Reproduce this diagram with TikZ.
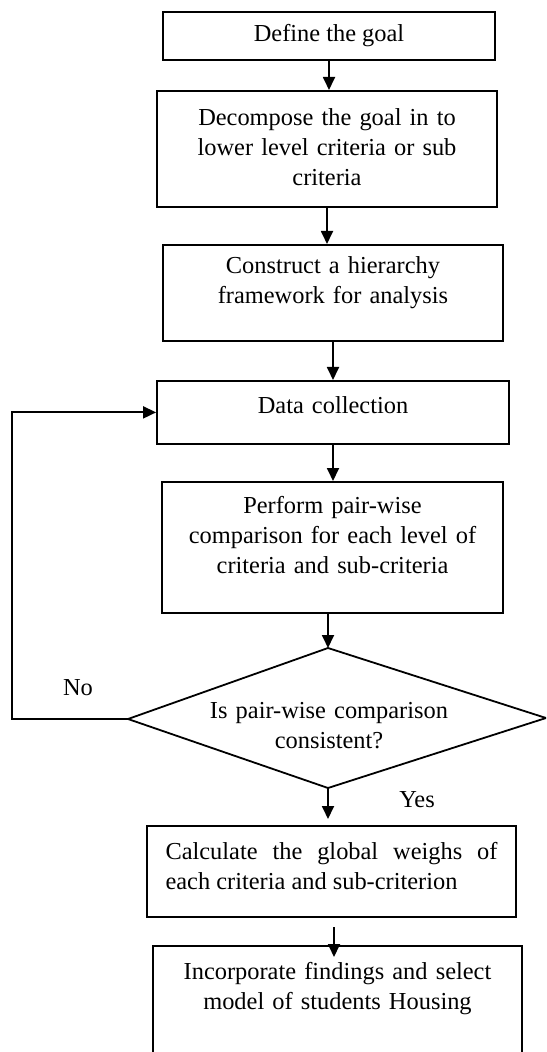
\documentclass[tikz,border=0pt]{standalone}
\usepackage{fontspec}
\setmainfont{Liberation Serif}
\usetikzlibrary{arrows.meta}

\begin{document}
\begin{tikzpicture}[x=0.5pt, y=-0.5pt, line width=0.9pt,
    every node/.style={font=\fontsize{12.2}{15}\selectfont},
    stage/.style={draw, rectangle, anchor=north, inner sep=0pt, align=center},
    flow/.style={-{Triangle[width=6pt,length=6.5pt]}}]
    \useasboundingbox (0,0) rectangle (546,1052);
    \clip (0,0) rectangle (546,1052);
    \node[stage, minimum width=166pt, minimum height=24pt] (goal) at (329,11) {Define the goal};
    \node[stage, minimum width=170pt, text width=164pt, text height=17.5pt, text depth=40.5pt] (decomp) at (327,90) {Decompose the goal in to\\lower level criteria or sub\\criteria};
    \node[stage, minimum width=170pt, text width=164pt, text height=14.5pt, text depth=33.5pt] (frame) at (333,244) {Construct a hierarchy\\framework for analysis};
    \node[stage, minimum width=176pt, text width=164pt, text height=16.5pt, text depth=15pt] (data) at (333,380) {Data collection};
    \node[stage, minimum width=170.5pt, text width=164pt, text height=16pt, text depth=49.5pt] (pair) at (332.5,481) {Perform pair-wise\\comparison for each level of\\criteria and sub-criteria};
    \coordinate (ctop) at (328,648);
    \coordinate (cright) at (546,718);
    \coordinate (cbot) at (328,788);
    \coordinate (cleft) at (128,719);
    \draw (ctop) -- (cright) -- (cbot) -- (cleft) -- cycle;
    \node[align=center, inner sep=0pt, text width=164pt, text height=0pt, text depth=0pt] (check) at (329,718) {Is pair-wise comparison\\consistent?};
    \node[stage, minimum width=184.5pt, text width=166pt, align=justify, text height=17pt, text depth=28.5pt] (calc) at (331.5,825) {Calculate the global weighs of\linebreak each criteria and sub-criterion};
    \node[stage, minimum width=184.5pt, text width=172pt, text height=17pt, text depth=55pt] (final) at (337.5,945) {Incorporate findings and select\\model of students Housing};
    \node (no) at (78,688) {No};
    \node (yes) at (417,800) {Yes};
    \coordinate (loopx) at (12,0);
    \coordinate (gap) at (334,927);
    \draw[flow] (goal.south) -- (goal.south |- decomp.north);
    \draw[flow] (decomp.south) -- (decomp.south |- frame.north);
    \draw[flow] (frame.south) -- (frame.south |- data.north);
    \draw[flow] (data.south) -- (data.south |- pair.north);
    \draw[flow] (ctop |- pair.south) -- (ctop);
    \draw[flow] (cleft) -- (cleft -| loopx) |- (data.west);
    \draw[flow] (cbot) -- ([yshift=3pt]cbot |- calc.north);
    \draw[flow] (gap) -- ([yshift=-6pt]gap |- final.north);
\end{tikzpicture}
\end{document}
